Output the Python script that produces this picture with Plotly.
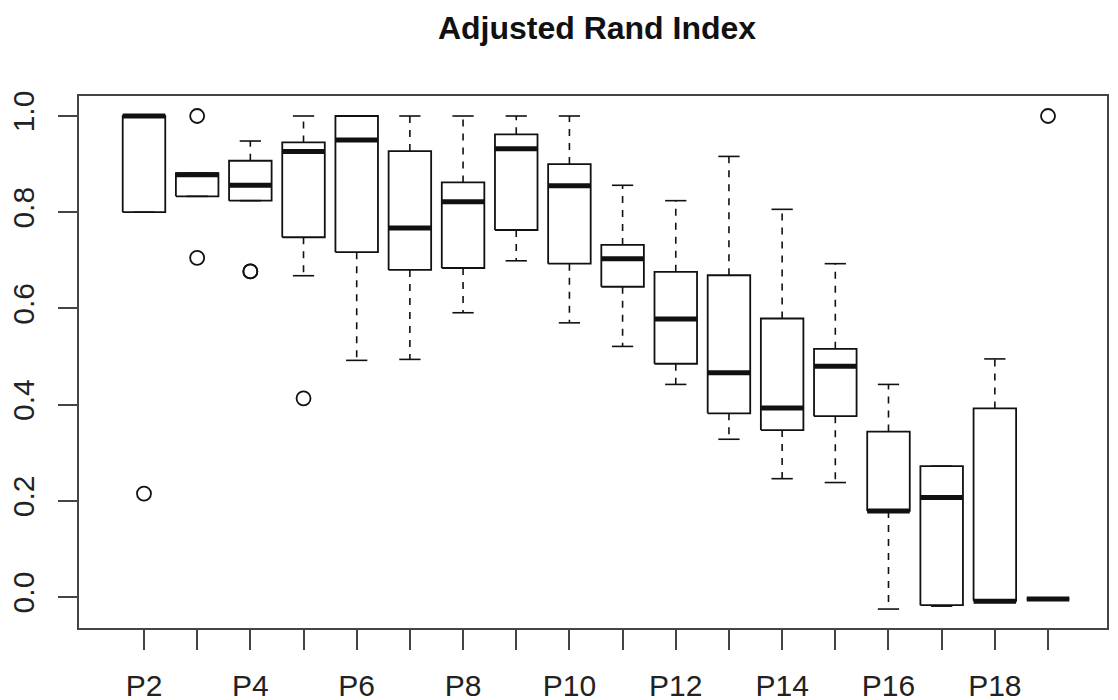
import plotly.graph_objects as go

# ---- data ----
categories = ["P2", "P3", "P4", "P5", "P6", "P7", "P8", "P9", "P10",
              "P11", "P12", "P13", "P14", "P15", "P16", "P17", "P18", "P19"]
lower_whisker = [0.800, 0.833, 0.824, 0.668, 0.492, 0.494, 0.591, 0.699, 0.570,
                 0.521, 0.442, 0.328, 0.246, 0.238, -0.025, -0.019, -0.008, -0.004]
q1 = [0.800, 0.833, 0.824, 0.748, 0.717, 0.680, 0.684, 0.763, 0.693,
      0.645, 0.485, 0.382, 0.347, 0.376, 0.179, -0.017, -0.008, -0.004]
median = [1.000, 0.878, 0.856, 0.926, 0.950, 0.767, 0.822, 0.932, 0.855,
          0.703, 0.578, 0.466, 0.393, 0.480, 0.179, 0.207, -0.009, -0.004]
q3 = [1.000, 0.881, 0.907, 0.945, 1.000, 0.927, 0.862, 0.962, 0.900,
      0.732, 0.676, 0.669, 0.579, 0.516, 0.344, 0.272, 0.392, -0.004]
upper_whisker = [1.000, 0.881, 0.948, 1.000, 1.000, 1.000, 1.000, 1.000, 1.000,
                 0.856, 0.824, 0.916, 0.806, 0.693, 0.442, 0.272, 0.495, -0.004]
outlier_groups = ["P2", "P3", "P3", "P4", "P4", "P5", "P19"]
outlier_values = [0.215, 1.000, 0.705, 0.677, 0.677, 0.413, 1.000]
y_tick_values = [0.0, 0.2, 0.4, 0.6, 0.8, 1.0]
y_tick_labels = ["0.0", "0.2", "0.4", "0.6", "0.8", "1.0"]
title_text = "Adjusted Rand Index"

# ---- styling ----
BOX_HALF = 0.4
STAPLE_HALF = 0.2
INK = "#111111"
FRAME = "#444444"
FONT = "Liberation Sans, Arial, sans-serif"
PAGE_OFFSET = 8  # default body margin of the page

pos = {c: i + 1 for i, c in enumerate(categories)}

box_x, box_y = [], []
med_x, med_y = [], []
wh_x, wh_y = [], []
st_x, st_y = [], []
for i, c in enumerate(categories):
    p = pos[c]
    box_x += [p - BOX_HALF, p + BOX_HALF, p + BOX_HALF, p - BOX_HALF, p - BOX_HALF, None]
    box_y += [q1[i], q1[i], q3[i], q3[i], q1[i], None]
    med_x += [p - BOX_HALF, p + BOX_HALF, None]
    med_y += [median[i], median[i], None]
    wh_x += [p, p, None, p, p, None]
    wh_y += [q3[i], upper_whisker[i], None, q1[i], lower_whisker[i], None]
    st_x += [p - STAPLE_HALF, p + STAPLE_HALF, None, p - STAPLE_HALF, p + STAPLE_HALF, None]
    st_y += [upper_whisker[i], upper_whisker[i], None, lower_whisker[i], lower_whisker[i], None]

fig = go.Figure()
fig.add_trace(go.Scatter(x=wh_x, y=wh_y, mode="lines",
                         line=dict(color=INK, width=1.6, dash="7px,7px"),
                         hoverinfo="skip", showlegend=False))
fig.add_trace(go.Scatter(x=st_x, y=st_y, mode="lines",
                         line=dict(color=INK, width=1.6),
                         hoverinfo="skip", showlegend=False))
fig.add_trace(go.Scatter(x=box_x, y=box_y, mode="lines",
                         line=dict(color=INK, width=1.8),
                         hoverinfo="skip", showlegend=False))
fig.add_trace(go.Scatter(x=med_x, y=med_y, mode="lines",
                         line=dict(color=INK, width=5),
                         hoverinfo="skip", showlegend=False))
fig.add_trace(go.Scatter(x=[pos[g] for g in outlier_groups], y=outlier_values,
                         mode="markers",
                         marker=dict(symbol="circle-open", size=14,
                                     color=INK, line=dict(width=1.8, color=INK)),
                         hoverinfo="skip", showlegend=False))

tick_vals = [pos[c] for c in categories]
tick_text = [c if i % 2 == 0 else "" for i, c in enumerate(categories)]

fig.update_layout(
    width=1118, height=700,
    margin=dict(l=79 - PAGE_OFFSET, r=11 + PAGE_OFFSET,
                t=96 - PAGE_OFFSET, b=72 + PAGE_OFFSET),
    paper_bgcolor="white", plot_bgcolor="white",
    font=dict(family=FONT, color="#222222"),
    title=dict(text="<b>" + title_text + "</b>",
               x=(597 - PAGE_OFFSET) / 1118, xanchor="center",
               y=1 - 9 / 700, yanchor="top", yref="container", pad=dict(t=0, b=0),
               font=dict(size=32, family=FONT, color="#111111")),
    xaxis=dict(range=[1 - 1.222, len(categories) + 1.109],
               tickmode="array", tickvals=tick_vals, ticktext=tick_text,
               ticks="outside", ticklen=20, tickwidth=1.5, tickcolor=FRAME,
               showline=True, linecolor=FRAME, linewidth=1.5, mirror=True,
               showgrid=False, zeroline=False, automargin=False,
               tickfont=dict(size=30, family=FONT, color="#222222"),
               ticklabelstandoff=10),
    yaxis=dict(range=[-0.0644, 1.0416],
               tickmode="array", tickvals=y_tick_values, ticktext=y_tick_labels,
               tickangle=-90,
               ticks="outside", ticklen=19, tickwidth=1.5, tickcolor=FRAME,
               showline=True, linecolor=FRAME, linewidth=1.5, mirror=True,
               showgrid=False, zeroline=False, automargin=False,
               tickfont=dict(size=30, family=FONT, color="#222222"),
               ticklabelstandoff=12),
)

fig.write_html("out.html", config={"displayModeBar": False})
